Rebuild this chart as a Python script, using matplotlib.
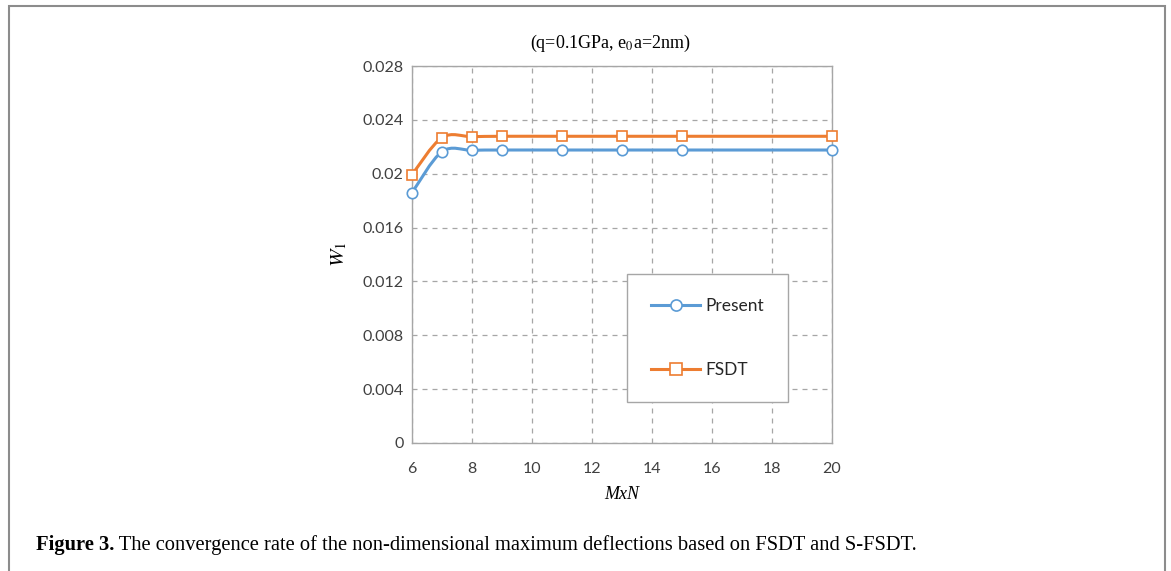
import numpy as np
import matplotlib.pyplot as plt
from matplotlib.path import Path
from matplotlib.patches import PathPatch, Rectangle
from matplotlib.lines import Line2D

plt.rcParams["mathtext.fontset"] = "stix"

mxn = [6, 7, 8, 9, 11, 13, 15, 20]
present = [0.01859, 0.02164, 0.02174, 0.02176, 0.02176, 0.02176, 0.02176, 0.02176]
fsdt = [0.01993, 0.02268, 0.02275, 0.02278, 0.02278, 0.02278, 0.02278, 0.02278]
yticks = [0, 0.004, 0.008, 0.012, 0.016, 0.02, 0.024, 0.028]
ytick_labels = ["0", "0.004", "0.008", "0.012", "0.016", "0.02", "0.024", "0.028"]
xticks = [6, 8, 10, 12, 14, 16, 18, 20]

blue = "#5B9BD5"
orange = "#ED7D31"
tickfont = "Lato"
W, H = 1171, 571


def smooth_path(x, y):
    # Excel-like smoothed line: Catmull-Rom converted to cubic Bezier
    x = np.asarray(x, float)
    y = np.asarray(y, float)
    verts = [(x[0], y[0])]
    codes = [Path.MOVETO]
    n = len(x)
    for i in range(n - 1):
        p0 = i - 1 if i > 0 else i
        p3 = i + 2 if i + 2 < n else i + 1
        c1 = (x[i] + (x[i + 1] - x[p0]) / 6, y[i] + (y[i + 1] - y[p0]) / 6)
        c2 = (x[i + 1] - (x[p3] - x[i]) / 6, y[i + 1] - (y[p3] - y[i]) / 6)
        verts += [c1, c2, (x[i + 1], y[i + 1])]
        codes += [Path.CURVE4] * 3
    return Path(verts, codes)


fig = plt.figure(figsize=(W / 100, H / 100), dpi=100)
ax = fig.add_axes([412 / W, 1 - 443 / H, 420 / W, 377 / H])

for ys, col, mk in [(present, blue, "o"), (fsdt, orange, "s")]:
    ax.add_patch(PathPatch(smooth_path(mxn, ys), fill=False, edgecolor=col,
                           lw=2.2, zorder=3, clip_on=False))
    ax.plot(mxn, ys, linestyle="none", marker=mk, ms=7.5, mfc="white",
            mec=col, mew=1.2, zorder=4, clip_on=False)

ax.set_xlim(6, 20)
ax.set_ylim(0, 0.028)
ax.set_xticks(xticks)
ax.set_yticks(yticks)
ax.set_yticklabels(ytick_labels)
ax.tick_params(length=0, labelsize=11.5, labelcolor="#404040")
ax.tick_params(axis="y", pad=6)
ax.tick_params(axis="x", pad=14)
for lab in ax.get_xticklabels() + ax.get_yticklabels():
    lab.set_family(tickfont)
ax.grid(True, linestyle=(0, (4, 4)), color="#A6A6A6", lw=0.9)
for s in ax.spines.values():
    s.set_color("#A6A6A6")
    s.set_linewidth(1.0)

ax.set_xlabel("MxN", family="Liberation Serif", style="italic", fontsize=13, labelpad=7)
ax.set_ylabel("$W_1$", fontsize=15, labelpad=10)

fig.text(0.521, 1 - 43 / H, "(q=0.1GPa, e$_0$a=2nm)", family="Liberation Serif",
         fontsize=13, ha="center", va="center")

handles = [Line2D([], [], color=blue, lw=2.2, marker="o", ms=8, mfc="white", mec=blue, mew=1.2),
           Line2D([], [], color=orange, lw=2.2, marker="s", ms=8, mfc="white", mec=orange, mew=1.2)]
leg = ax.legend(handles, ["Present", "FSDT"], loc="upper left",
                bbox_to_anchor=(627 / W, 1 - 274 / H), bbox_transform=fig.transFigure,
                prop={"family": tickfont, "size": 12.5}, frameon=True, fancybox=False,
                edgecolor="#A6A6A6", framealpha=1, borderpad=1.4, labelspacing=2.75,
                handlelength=2.8, handletextpad=0.3, borderaxespad=0)
leg.get_frame().set_linewidth(1.0)
for t in leg.get_texts():
    t.set_color("#262626")

# caption: bold label followed by regular text, scaled to the reference width
cap_y = 1 - 545 / H
cap_size = 13
fig.canvas.draw()
r = fig.canvas.get_renderer()
bold = fig.text(36 / W, cap_y, "Figure 3.", family="Liberation Serif", weight="bold",
                fontsize=cap_size, va="center")
rest_str = " The convergence rate of the non-dimensional maximum deflections based on FSDT and S-FSDT."
bw = bold.get_window_extent(r).width
rest = fig.text(36 / W + bw / W, cap_y, rest_str, family="Liberation Serif",
                fontsize=cap_size, va="center")
total = bw + rest.get_window_extent(r).width
scale = 877 / total
bold.set_fontsize(cap_size * scale)
rest.set_fontsize(cap_size * scale)
bw = bold.get_window_extent(r).width
rest.set_x(36 / W + bw / W)

fig.patches.append(Rectangle((8.5 / W, -0.05), (1165 - 8.5) / W, 1.05 - 6.5 / H,
                             transform=fig.transFigure, fill=False,
                             edgecolor="#8C8C8C", lw=1.5))

fig.savefig("out.png", dpi=100)
